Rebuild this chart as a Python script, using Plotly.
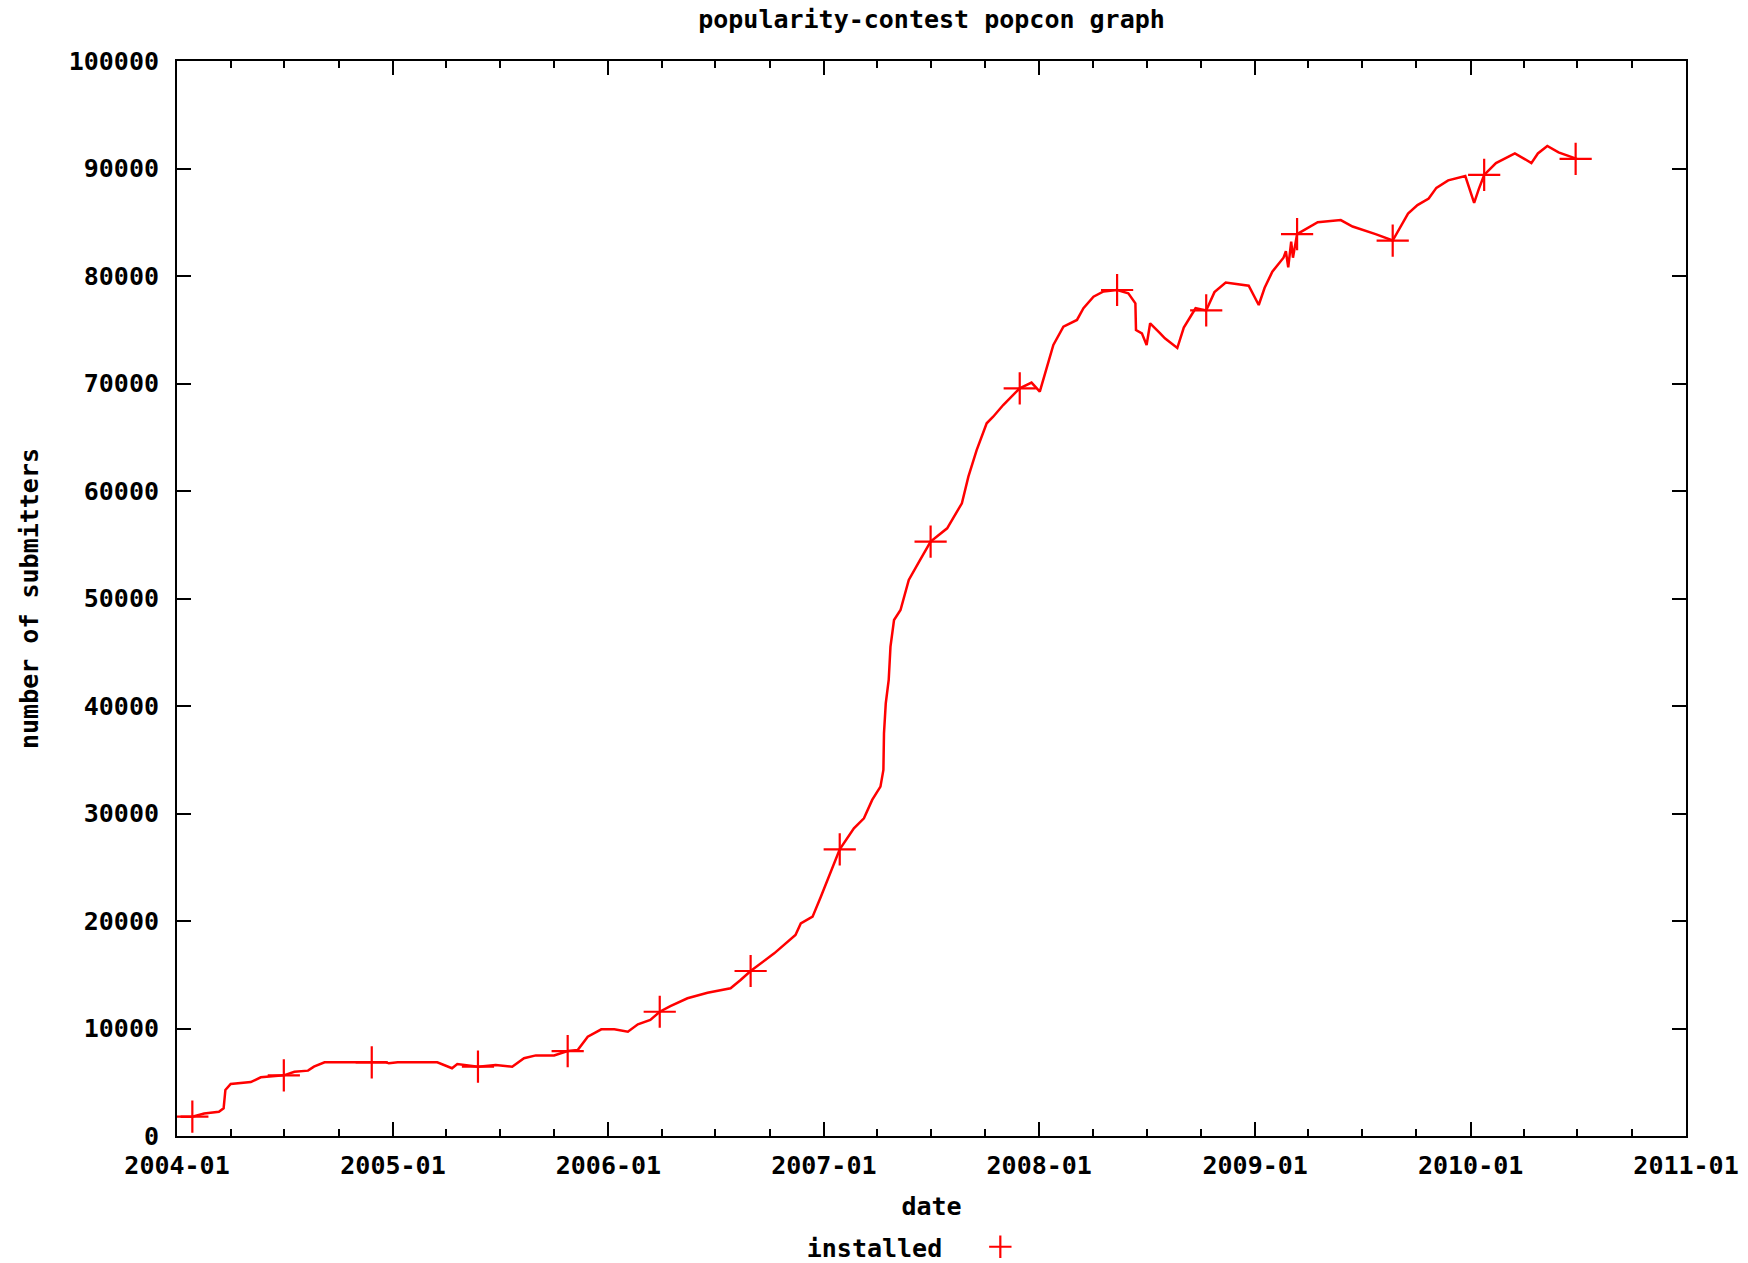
import plotly.graph_objects as go

# ---- data ----
dates = [
    "2004-01-07", "2004-01-27", "2004-02-16", "2004-03-12", "2004-03-20", "2004-03-23",
    "2004-04-01", "2004-05-05", "2004-05-22", "2004-06-30", "2004-07-18", "2004-08-10",
    "2004-08-20", "2004-09-07", "2004-11-26", "2004-12-20", "2004-12-25", "2005-01-09",
    "2005-03-17", "2005-04-11", "2005-04-20", "2005-05-25", "2005-06-24", "2005-07-22",
    "2005-08-11", "2005-08-31", "2005-10-01", "2005-10-24", "2005-11-10", "2005-11-27",
    "2005-12-20", "2006-01-11", "2006-02-03", "2006-02-20", "2006-03-13", "2006-03-29",
    "2006-04-16", "2006-05-15", "2006-06-18", "2006-07-27", "2006-08-13", "2006-08-30",
    "2006-10-09", "2006-11-14", "2006-11-23", "2006-12-13", "2006-12-27", "2007-01-12",
    "2007-01-28", "2007-02-21", "2007-03-10", "2007-03-24", "2007-04-07", "2007-04-12",
    "2007-04-13", "2007-04-16", "2007-04-21", "2007-04-24", "2007-04-30", "2007-05-11",
    "2007-05-25", "2007-06-13", "2007-07-01", "2007-07-29", "2007-08-23", "2007-09-03",
    "2007-09-17", "2007-10-04", "2007-10-15", "2007-11-01", "2007-11-29", "2007-12-19",
    "2008-01-02", "2008-01-11", "2008-01-17", "2008-01-25", "2008-02-11", "2008-03-05",
    "2008-03-16", "2008-04-02", "2008-04-19", "2008-05-12", "2008-05-31", "2008-06-12",
    "2008-06-13", "2008-06-23", "2008-07-01", "2008-07-07", "2008-07-24", "2008-08-01",
    "2008-08-22", "2008-09-02", "2008-09-22", "2008-10-10", "2008-10-24", "2008-11-12",
    "2008-12-21", "2009-01-07", "2009-01-17", "2009-01-30", "2009-02-18", "2009-02-22",
    "2009-02-26", "2009-03-03", "2009-03-06", "2009-03-13", "2009-04-17", "2009-05-26",
    "2009-06-15", "2009-07-24", "2009-08-22", "2009-09-17", "2009-10-03", "2009-10-22",
    "2009-11-04", "2009-11-24", "2009-12-23", "2009-12-29", "2010-01-07", "2010-01-15",
    "2010-01-24", "2010-02-13", "2010-03-17", "2010-04-02", "2010-04-14", "2010-04-25",
    "2010-05-11", "2010-05-30", "2010-06-28", "2010-06-30",
]
installed = [
    1800, 1800, 2100, 2260, 2570, 4280,
    4840, 5020, 5460, 5640, 5980, 6080,
    6450, 6850, 6850, 6850, 6760, 6850,
    6850, 6300, 6700, 6450, 6600, 6450,
    7230, 7500, 7500, 7900, 8000, 9240,
    9920, 9920, 9700, 10390, 10790, 11560,
    12090, 12810, 13330, 13740, 14510, 15350,
    16990, 18700, 19780, 20400, 22260, 24430,
    26670, 28620, 29550, 31260, 32500, 34050,
    37460, 40250, 42420, 45520, 48000, 48930,
    51720, 53580, 55290, 56530, 58860, 61330,
    63810, 66300, 66910, 68000, 69550, 70080,
    69240, 70950, 72190, 73580, 75280, 75910,
    77000, 78080, 78560, 78700, 78390, 77460,
    74980, 74670, 73580, 75600, 74670, 74200,
    73300, 75200, 77000, 76800, 78500, 79400,
    79100, 77300, 78900, 80400, 81700, 82300,
    80800, 83200, 81700, 83900, 85000, 85200,
    84600, 83900, 83300, 85800, 86600, 87200,
    88200, 88900, 89300, 88300, 86800, 88100,
    89400, 90500, 91400, 90900, 90500, 91400,
    92100, 91500, 90900, 90900,
]
# dates at which the "+" point symbols are drawn
marker_dates = [
    "2004-01-27", "2004-06-30", "2004-11-26", "2005-05-25", "2005-10-24", "2006-03-29",
    "2006-08-30", "2007-01-28", "2007-07-01", "2007-11-29", "2008-05-12", "2008-10-10",
    "2009-03-13", "2009-08-22", "2010-01-24", "2010-06-28",
]
lookup = dict(zip(dates, installed))
marker_values = [lookup[d] for d in marker_dates]

title_text = "popularity-contest popcon graph"
x_title = "date"
y_title = "number of submitters"
series_name = "installed"

FONT = "DejaVu Sans Mono"
FS = 25
RED = "#ff0000"
font_spec = dict(family=FONT, size=FS, color="black", weight="bold")

fig = go.Figure()
fig.add_trace(go.Scatter(
    x=dates, y=installed, mode="lines",
    line=dict(color=RED, width=2.5),
    showlegend=False, hoverinfo="skip",
))
fig.add_trace(go.Scatter(
    x=marker_dates, y=marker_values, mode="markers", name=" ",
    marker=dict(symbol="cross-thin", size=23, color=RED,
                line=dict(color=RED, width=2.2)),
))

fig.update_layout(
    width=1748, height=1263,
    margin=dict(l=177, r=62, t=61, b=127, autoexpand=False),
    paper_bgcolor="white", plot_bgcolor="white",
    font=font_spec,
    title=dict(text=title_text, x=0.5, xref="paper", xanchor="center",
               y=1 - 19 / 1263, yref="container", yanchor="middle",
               font=font_spec),
    showlegend=True,
    legend=dict(title=dict(text=series_name + "\u00a0\u00a0", side="left", font=font_spec),
                font=font_spec,
                orientation="h", x=0.416, xanchor="left", xref="paper",
                y=(1263 - 1247) / 1263, yref="container", yanchor="middle",
                bgcolor="rgba(0,0,0,0)"),
)
fig.update_xaxes(
    type="date", range=["2004-01-01", "2011-01-01"],
    tick0="2004-01-01", dtick="M12", tickformat="%Y-%m",
    ticks="inside", ticklen=14, tickwidth=2, tickcolor="black",
    showline=True, linewidth=2, linecolor="black", mirror="ticks",
    showgrid=False, zeroline=False,
    minor=dict(dtick="M3", ticks="inside", ticklen=7, tickwidth=2,
               tickcolor="black", showgrid=False),
    ticklabelstandoff=6,
    tickfont=font_spec,
    title=dict(text=x_title, standoff=18, font=font_spec),
)
fig.update_yaxes(
    range=[0, 100000], dtick=10000, tick0=0, tickformat="d",
    ticks="inside", ticklen=14, tickwidth=2, tickcolor="black",
    showline=True, linewidth=2, linecolor="black", mirror="ticks",
    showgrid=False, zeroline=False,
    ticklabelstandoff=11,
    tickfont=font_spec,
    title=dict(text=y_title, standoff=23, font=font_spec),
)

fig.write_html("out.html", config={"displayModeBar": False},
               post_script="document.body.style.margin='0';")
